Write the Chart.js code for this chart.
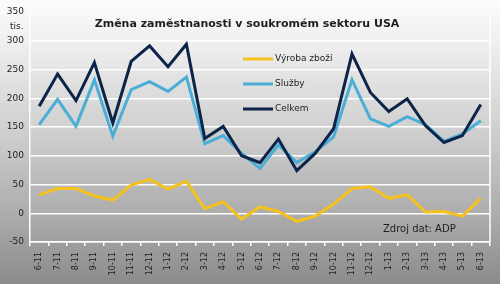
<!DOCTYPE html>
<html>
<head>
<meta charset="utf-8">
<script src="https://cdn.jsdelivr.net/npm/chart.js@4/dist/chart.umd.min.js"></script>
<style>
  html, body { margin: 0; padding: 0; }
  body { width: 500px; height: 284px; overflow: hidden;
    background: linear-gradient(to bottom, #fcfcfc 0%, #efefef 15%, #cbcbcb 50%, #adadad 75%, #8b8b8b 100%); }
  canvas { display: block; }
</style>
</head>
<body>
<canvas id="c" width="500" height="284"></canvas>
<script>
const categories = ['6-11','7-11','8-11','9-11','10-11','11-11','12-11','1-12','2-12','3-12','4-12','5-12','6-12','7-12','8-12','9-12','10-12','11-12','12-12','1-13','2-13','3-13','4-13','5-13','6-13'];
const vyroba = [32, 43, 43, 30, 23, 49, 59, 42, 56, 8, 20, -10, 11, 3, -14, -5, 16, 43, 46, 26, 32, 2, 3, -5, 26];
const sluzby = [154, 198, 151, 232, 134, 215, 229, 212, 237, 121, 135, 104, 78, 119, 88, 107, 133, 232, 164, 151, 168, 154, 125, 138, 161];
const celkem = [186, 242, 196, 262, 157, 264, 291, 255, 294, 130, 151, 100, 88, 129, 74, 104, 147, 277, 210, 177, 199, 152, 123, 135, 189];
const seriesNames = ['Výroba zboží', 'Služby', 'Celkem'];
const yTicks = [-50, 0, 50, 100, 150, 200, 250, 300, 350];
const titleText = 'Změna zaměstnanosti v soukromém sektoru USA';
const unitText = 'tis.';
const sourceText = 'Zdroj dat: ADP';

const FONT = '"DejaVu Sans", Verdana, sans-serif';
const TXT = '#1e1e1e';

const decor = {
  id: 'decor',
  afterDraw(chart) {
    const ctx = chart.ctx;
    const a = chart.chartArea;
    ctx.save();
    // right border
    ctx.strokeStyle = '#ffffff';
    ctx.lineWidth = 1.5;
    ctx.beginPath();
    ctx.moveTo(a.right, a.top);
    ctx.lineTo(a.right, a.bottom);
    ctx.stroke();
    // title
    ctx.fillStyle = TXT;
    ctx.font = 'bold 11px ' + FONT;
    ctx.textAlign = 'center';
    ctx.textBaseline = 'middle';
    ctx.fillText(titleText, 247, 24);
    // unit
    ctx.font = '9px ' + FONT;
    ctx.textAlign = 'left';
    ctx.fillText(unitText, 10, 27);
    // legend
    chart.data.datasets.forEach((ds, i) => {
      const y = 59 + 25 * i;
      ctx.strokeStyle = ds.borderColor;
      ctx.lineWidth = 3;
      ctx.beginPath();
      ctx.moveTo(243, y);
      ctx.lineTo(273, y);
      ctx.stroke();
      ctx.fillStyle = TXT;
      ctx.font = '9px ' + FONT;
      ctx.textAlign = 'left';
      ctx.fillText(ds.label, 275, y);
    });
    // source
    ctx.font = '10px ' + FONT;
    ctx.fillText(sourceText, 383, 229);
    ctx.restore();
  }
};

new Chart(document.getElementById('c'), {
  type: 'line',
  data: {
    labels: categories,
    datasets: [
      { label: seriesNames[0], data: vyroba, borderColor: '#f4c11f', order: 2 },
      { label: seriesNames[1], data: sluzby, borderColor: '#4aaed6', order: 1 },
      { label: seriesNames[2], data: celkem, borderColor: '#0c2449', order: 0 }
    ]
  },
  options: {
    responsive: false,
    animation: false,
    devicePixelRatio: 1,
    layout: { padding: { top: 12, right: 10, left: 0, bottom: 0 } },
    elements: {
      line: { borderWidth: 3, tension: 0, fill: false, borderJoinStyle: 'miter' },
      point: { radius: 0, hoverRadius: 0 }
    },
    plugins: { legend: { display: false }, tooltip: { enabled: false }, title: { display: false } },
    scales: {
      x: {
        offset: true,
        grid: { offset: true, drawOnChartArea: false, drawTicks: true, tickLength: 4, color: '#ffffff', lineWidth: 1.5 },
        border: { display: true, color: '#ffffff', width: 1.5 },
        ticks: { maxRotation: 90, minRotation: 90, autoSkip: false, padding: 6, color: TXT, font: { family: FONT, size: 8 } },
        afterFit(s) { s.height = 42; }
      },
      y: {
        min: -50, max: 350,
        afterBuildTicks(s) { s.ticks = yTicks.map(v => ({ value: v })); },
        grid: {
          drawTicks: false,
          lineWidth: 1.5,
          color: (c) => (c.tick && c.tick.value === 350) ? 'rgba(0,0,0,0)' : '#ffffff'
        },
        border: { display: true, color: '#ffffff', width: 1.5 },
        ticks: { padding: 6, color: TXT, font: { family: FONT, size: 9 } },
        afterFit(s) { s.width = 30; }
      }
    }
  },
  plugins: [decor]
});
</script>
</body>
</html>
